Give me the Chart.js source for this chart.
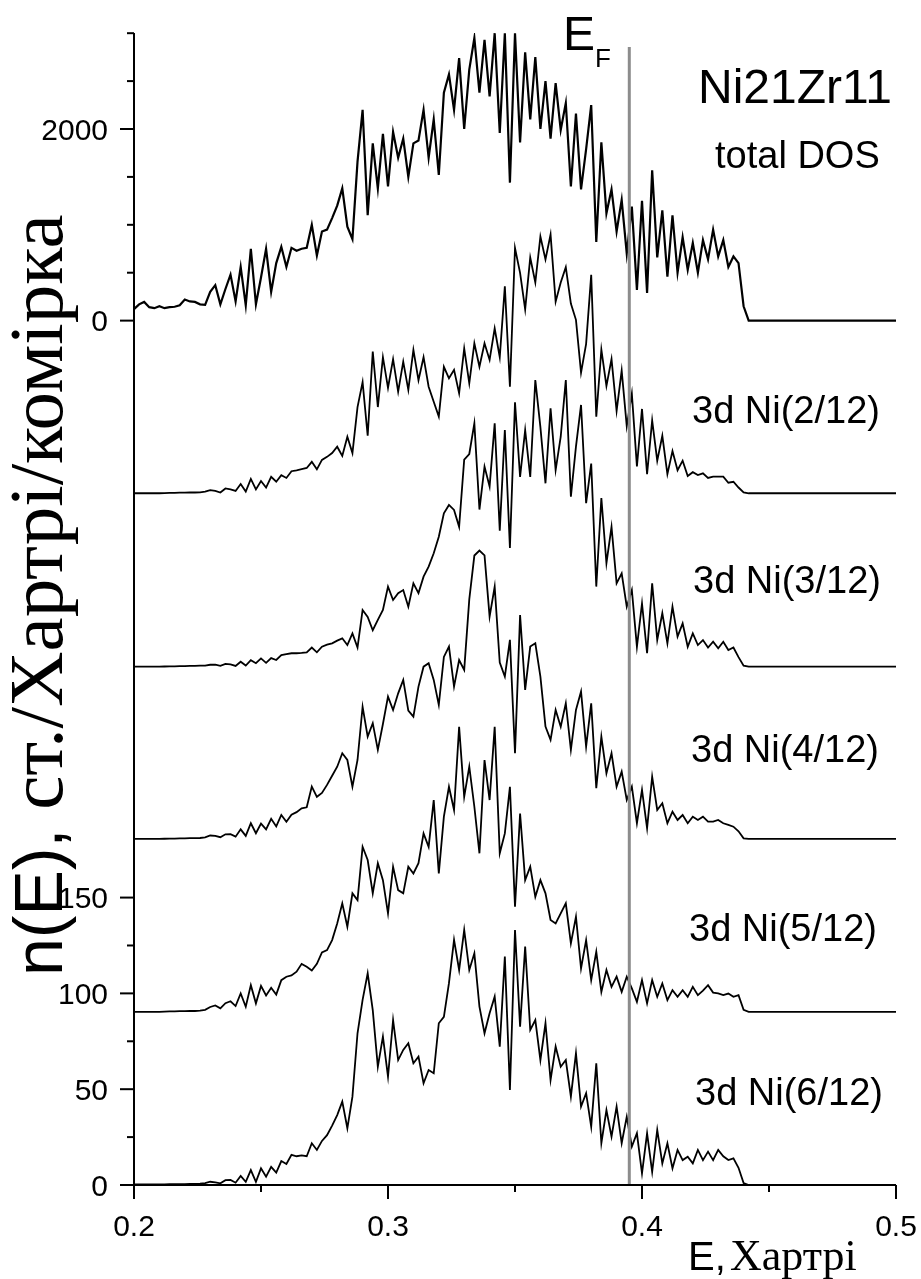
<!DOCTYPE html>
<html><head><meta charset="utf-8">
<script src="https://cdn.jsdelivr.net/npm/chart.js@4.4.0/dist/chart.umd.min.js"></script>
<style>html,body{margin:0;padding:0;background:#fff;}canvas{display:block;}</style>
</head><body>
<canvas id="c" width="921" height="1279"></canvas>
<script>
// Energy grid (Hartree)
const energy = [0.200,0.202,0.204,0.206,0.208,0.210,0.212,0.214,0.216,0.218,
0.220,0.222,0.224,0.226,0.228,0.230,0.232,0.234,0.236,0.238,
0.240,0.242,0.244,0.246,0.248,0.250,0.252,0.254,0.256,0.258,
0.260,0.262,0.264,0.266,0.268,0.270,0.272,0.274,0.276,0.278,
0.280,0.282,0.284,0.286,0.288,0.290,0.292,0.294,0.296,0.298,
0.300,0.302,0.304,0.306,0.308,0.310,0.312,0.314,0.316,0.318,
0.320,0.322,0.324,0.326,0.328,0.330,0.332,0.334,0.336,0.338,
0.340,0.342,0.344,0.346,0.348,0.350,0.352,0.354,0.356,0.358,
0.360,0.362,0.364,0.366,0.368,0.370,0.372,0.374,0.376,0.378,
0.380,0.382,0.384,0.386,0.388,0.390,0.392,0.394,0.396,0.398,
0.400,0.402,0.404,0.406,0.408,0.410,0.412,0.414,0.416,0.418,
0.420,0.422,0.424,0.426,0.428,0.430,0.432,0.434,0.436,0.438,
0.440,0.442,0.500];

// total DOS (states/Hartree/cell)
const totalDOS = [120,170,195,140,130,150,130,140,145,160,
220,200,195,170,165,300,370,170,330,480,
200,560,160,750,170,450,750,300,600,770,
560,760,730,750,760,1000,680,930,950,1070,
1200,1380,980,850,1660,2200,1100,1850,1380,1950,
1400,1970,1700,1900,1500,1850,1880,2200,1700,2100,
1520,2380,2570,2200,2740,2000,2620,2950,2380,2930,
2340,3000,1960,3000,1440,3000,1860,2800,2100,2750,
2000,2500,1900,2480,1990,2270,1400,2160,1370,1790,
2250,820,1860,1120,1370,930,1260,700,1190,320,
1250,290,1570,660,1150,460,1100,500,870,530,
810,500,840,640,950,670,840,560,670,600,
150,0,0];

// 3d Ni partial DOS
const ni2 = [0,0,0,0,0,0,0.1,0.2,0.2,0.3,
0.3,0.4,0.4,0.5,0.8,1.6,1.2,0.4,2.5,2.0,
1.2,4.8,0.9,7.5,2.0,6.4,3.0,8.6,6.0,9.4,
8.0,11.5,12.0,12.6,13.2,16.4,12.5,17.4,19.0,21.0,
24.3,19.5,29.5,21.0,45.0,58.0,30.0,74.0,45.0,71.0,
55.0,70.0,53.0,68.7,54.0,74.8,59.0,71.0,55.6,47.8,
40.0,66.0,60.0,64.4,52.2,75.6,57.4,78.3,66.0,78.3,
69.6,86.0,71.0,108.0,55.6,128.0,115.0,96.0,123.0,110.0,
134.0,122.0,135.0,100.0,110.0,118.0,99.0,90.5,63.0,78.0,
114.0,40.0,75.0,56.0,70.0,43.0,64.0,35.0,52.0,14.0,
44.0,10.0,38.0,17.0,30.0,10.0,22.0,12.0,17.0,9.0,
11.0,9.5,10.4,8.0,8.7,8.7,8.7,5.5,6.0,3.0,
0.5,0,0];

const ni3 = [0,0,0,0,0,0,0.1,0.2,0.2,0.3,
0.3,0.4,0.4,0.5,0.6,1.0,1.1,0.4,1.5,1.2,
0.4,2.6,0.6,3.4,1.8,4.3,2.0,4.5,3.5,6.0,
6.5,7.0,7.0,7.2,7.5,10.0,7.5,10.4,11.5,12.2,
13.6,14.8,11.3,17.4,10.0,29.6,26.0,19.0,24.4,29.6,
41.8,34.8,38.3,40.0,31.3,43.5,38.4,47.0,52.2,59.2,
67.8,80.0,84.4,81.8,73.0,108.0,111.0,127.0,82.0,104.4,
94.0,127.0,71.0,123.5,62.0,138.0,99.0,123.5,99.0,149.6,
125.0,95.7,134.8,102.6,120.0,149.6,88.7,114.8,136.6,85.3,
106.0,41.8,88.0,54.0,73.0,43.5,48.7,31.3,40.0,10.4,
33.0,7.0,43.5,13.9,27.9,12.2,31.3,15.7,22.6,10.4,
17.4,11.3,13.9,10.0,13.0,9.6,13.0,8.7,10.0,5.0,
0.5,0,0];

const ni4 = [0,0,0,0,0,0,0.1,0.2,0.2,0.3,
0.3,0.4,0.4,0.5,0.8,1.8,1.6,0.9,2.4,2.5,
1.2,5.0,1.6,8.2,3.0,8.0,5.0,10.5,6.5,12.5,
9.0,12.6,14.0,16.0,16.5,27.3,22.0,24.0,28.2,33.0,
37.7,44.7,41.2,27.3,41.2,69.0,53.4,60.4,46.5,60.0,
74.3,67.3,76.0,83.0,67.0,63.8,79.5,89.9,91.7,83.0,
70.0,95.0,100.4,79.5,93.4,88.2,125.0,147.9,150.5,148.0,
116.0,131.6,92.0,84.7,103.9,44.7,116.9,77.8,100.4,102.1,
84.7,58.6,51.7,67.3,58.6,70.8,46.5,67.3,76.9,48.2,
70.8,26.5,53.4,34.3,44.7,27.3,35.1,20.4,27.3,8.2,
25.6,5.6,32.5,15.1,18.6,8.2,14.2,9.9,12.5,8.2,
11.6,9.9,11.6,9.0,9.0,9.9,8.2,7.3,6.4,4.0,
0.3,0,0];

const ni5 = [0,0,0,0,0,0,0.1,0.2,0.2,0.3,
0.3,0.4,0.4,0.6,1.0,2.5,3.3,1.8,4.5,5.5,
3.0,9.6,2.6,13.9,4.4,13.5,8.5,12.5,9.0,16.5,
18.3,19.0,20.9,25.0,23.5,21.5,25.0,31.0,32.2,37.4,
46.1,56.6,44.4,61.8,58.3,86.1,79.2,61.8,77.5,68.7,
51.4,75.7,63.5,61.8,75.7,72.2,77.5,93.1,86.1,110.5,
72.2,101.8,117.4,105.3,148.7,112.2,127.9,107.0,82.7,131.4,
110.5,148.7,82.7,93.1,117.4,54.8,103.5,68.7,75.7,60.0,
68.7,61.8,47.9,46.1,51.4,56.6,35.7,49.6,22.6,37.4,
16.5,31.3,10.4,21.8,13.0,18.3,10.4,18.3,12.2,5.2,
16.5,4.4,16.5,7.8,14.8,6.1,11.3,7.8,11.3,7.8,
13.0,8.7,11.0,13.9,10.0,9.6,8.7,9.5,7.8,8.7,
1.0,0,0];

const ni6 = [0.3,0.3,0.3,0.3,0.3,0.3,0.3,0.4,0.4,0.5,
0.5,0.6,0.6,0.7,1.0,1.7,1.4,0.9,2.5,2.6,
1.2,4.7,1.7,7.8,1.7,8.7,4.3,9.5,6.5,12.5,
11.0,15.7,15.0,15.5,15.0,21.8,18.3,23.0,26.0,31.0,
36.5,43.5,29.6,46.1,79.2,96.6,110.5,91.3,61.7,77.4,
56.5,86.1,65.2,70.5,74.0,63.5,67.0,53.1,60.0,58.3,
84.4,87.8,105.3,127.9,112.2,133.1,112.2,120.9,93.1,79.2,
89.6,98.3,72.2,119.2,49.6,133.1,82.6,124.4,80.9,86.1,
65.2,84.4,54.8,72.2,61.7,65.2,46.1,68.7,40.9,47.9,
30.4,63.5,21.8,39.1,25.2,40.9,21.8,35.6,20.0,27.0,
6.1,27.0,6.9,28.7,11.3,21.8,8.7,18.3,13.0,14.8,
11.3,18.3,13.0,17.4,13.0,18.3,15.0,13.0,13.9,9.0,
1.0,0,0];

const seriesNames = ['total DOS','3d Ni(2/12)','3d Ni(3/12)','3d Ni(4/12)','3d Ni(5/12)','3d Ni(6/12)'];
const seriesValues = [totalDOS, ni2, ni3, ni4, ni5, ni6];
const xTickValues = [0.2,0.25,0.3,0.35,0.4,0.45,0.5];
const xTickLabels = ['0.2','','0.3','','0.4','','0.5'];
const lowerTickValues = [0,25,50,75,100,125,150];
const lowerTickLabels = ['0','','50','','100','','150'];
const upperTickValues = [0,500,1000,1500,2000,2500,3000];
const upperTickLabels = ['0','','','','2000','',''];
const fermiEnergy = 0.395;

// stacking transform (vertical offset of each curve, scale of total DOS)
const curveOffsets = [451.1, 361.0, 270.5, 180.6, 90.4, 0];
const curveScales = [0.05, 1, 1, 1, 1, 1];
const Y_MAX = 601.2;

const SANS = '"Liberation Sans", Arial, sans-serif';
const SERIF = '"Liberation Serif", "Times New Roman", serif';

const datasets = seriesValues.map((vals, k) => ({
  label: seriesNames[k],
  data: energy.map((e, j) => ({x: e, y: vals[j] * curveScales[k] + curveOffsets[k]})),
  borderColor: '#000',
  borderWidth: k === 0 ? 2.2 : 1.8,
  pointRadius: 0,
  tension: 0,
  fill: false
}));

const decor = {
  id: 'decor',
  afterDatasetsDraw(chart) {
    const ctx = chart.ctx, xs = chart.scales.x, ys = chart.scales.y, a = chart.chartArea;
    ctx.save();
    // Fermi level line
    const xf = xs.getPixelForValue(fermiEnergy);
    ctx.strokeStyle = '#8c8c8c'; ctx.lineWidth = 3;
    ctx.beginPath(); ctx.moveTo(xf, 47); ctx.lineTo(xf, a.bottom); ctx.stroke();
    // axes
    ctx.strokeStyle = '#000'; ctx.lineWidth = 2;
    ctx.beginPath(); ctx.moveTo(a.left, a.top); ctx.lineTo(a.left, a.bottom); ctx.lineTo(a.right, a.bottom); ctx.stroke();
    ctx.fillStyle = '#000';
    ctx.font = '30px ' + SANS;
    // x ticks
    ctx.textAlign = 'center'; ctx.textBaseline = 'alphabetic';
    xTickValues.forEach((v, i) => {
      const px = xs.getPixelForValue(v);
      const len = xTickLabels[i] ? 14 : 7;
      ctx.beginPath(); ctx.moveTo(px, a.bottom); ctx.lineTo(px, a.bottom + len); ctx.stroke();
      if (xTickLabels[i]) ctx.fillText(xTickLabels[i], px, 1236);
    });
    // y ticks
    ctx.textAlign = 'right';
    const drawY = (val, lab) => {
      const py = ys.getPixelForValue(val);
      const len = lab ? 14 : 7;
      ctx.beginPath(); ctx.moveTo(a.left - len, py); ctx.lineTo(a.left, py); ctx.stroke();
      if (lab) ctx.fillText(lab, 108, py + 10.5);
    };
    lowerTickValues.forEach((v, i) => drawY(v * curveScales[5] + curveOffsets[5], lowerTickLabels[i]));
    upperTickValues.forEach((v, i) => drawY(v * curveScales[0] + curveOffsets[0], upperTickLabels[i]));
    // annotations
    ctx.textAlign = 'left';
    ctx.font = '48px ' + SANS; ctx.fillText('E', 563, 50);
    ctx.font = '26px ' + SANS; ctx.fillText('F', 595, 67);
    ctx.font = '48px ' + SANS; ctx.fillText('Ni21Zr11', 698, 103);
    ctx.font = '38px ' + SANS; ctx.fillText('total DOS', 715, 168);
    const labelPos = [[692, 423], [693, 593], [691, 762], [689, 941], [695, 1105]];
    for (let k = 1; k < 6; k++) ctx.fillText(seriesNames[k], labelPos[k-1][0], labelPos[k-1][1]);
    // x title
    ctx.font = '40px ' + SANS; ctx.fillText('E,', 688, 1270);
    ctx.font = '44px ' + SERIF; ctx.fillText('Хартрі', 730, 1270);
    // y title (rotated)
    ctx.save();
    ctx.translate(62, 976); ctx.rotate(-Math.PI / 2);
    ctx.font = '68px ' + SANS; ctx.fillText('n(E), ', 0, 0);
    const w1 = ctx.measureText('n(E), ').width;
    ctx.font = '77px ' + SERIF; ctx.fillText('ст./Хартрі/комірка', w1, 0);
    ctx.restore();
    ctx.restore();
  }
};

new Chart(document.getElementById('c').getContext('2d'), {
  type: 'line',
  data: {datasets},
  options: {
    responsive: false, animation: false, devicePixelRatio: 1,
    layout: {padding: {left: 134, right: 25, top: 33, bottom: 94}},
    plugins: {legend: {display: false}, tooltip: {enabled: false}},
    scales: {
      x: {type: 'linear', min: 0.2, max: 0.5, display: false},
      y: {type: 'linear', min: 0, max: Y_MAX, display: false}
    }
  },
  plugins: [decor]
});
</script>
</body></html>
